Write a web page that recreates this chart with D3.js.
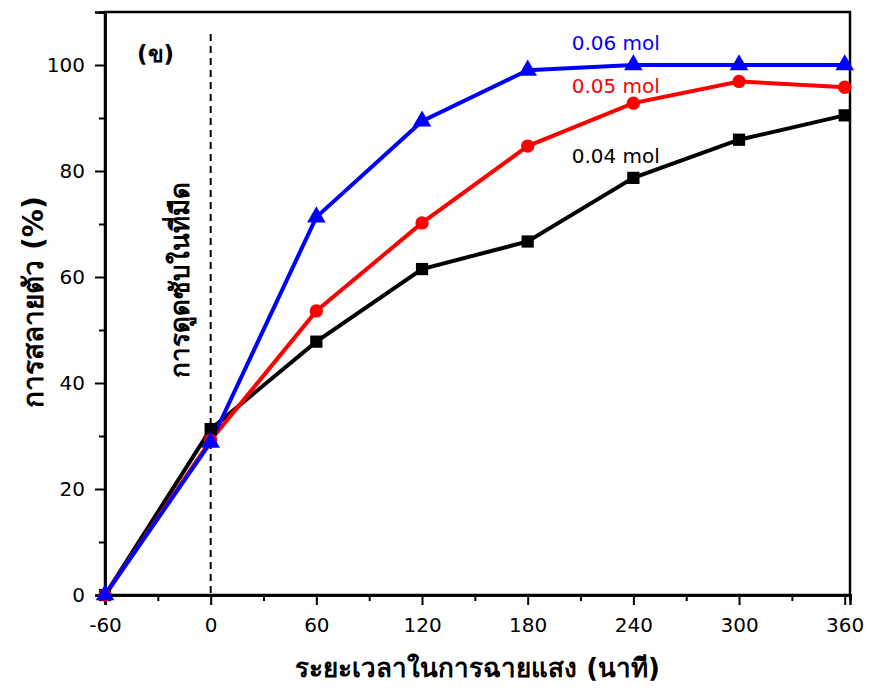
<!DOCTYPE html>
<html>
<head>
<meta charset="utf-8">
<script src="https://cdn.jsdelivr.net/npm/d3@7"></script>
<style>
  body { margin: 0; background: #fff; }
  text { font-family: "DejaVu Sans", "Noto Sans", sans-serif; }
</style>
</head>
<body>
<div id="chart"></div>
<script>
// Data
const times = [-60, 0, 60, 120, 180, 240, 300, 360];
const mol004 = [0, 31.3, 47.8, 61.5, 66.7, 78.7, 85.9, 90.5];
const mol005 = [0, 29.2, 53.6, 70.2, 84.7, 92.8, 96.9, 95.8];
const mol006 = [0, 28.8, 71.3, 89.4, 99.0, 100, 100, 100];
const xTicks = [-60, 0, 60, 120, 180, 240, 300, 360];
const yTicks = [0, 20, 40, 60, 80, 100];

const series = [
  {name: "0.04 mol", values: mol004, color: "#000000", marker: "square", lx: 205, ly: 82.6},
  {name: "0.05 mol", values: mol005, color: "#ff0000", marker: "circle", lx: 205, ly: 95.7},
  {name: "0.06 mol", values: mol006, color: "#0000ff", marker: "triangle", lx: 205, ly: 103.8}
];

const W = 869, H = 693;
const margin = {top: 12, right: 19, bottom: 98, left: 105},
      width = W - margin.left - margin.right,
      height = H - margin.top - margin.bottom;

const svg = d3.select("#chart")
  .append("svg")
    .attr("width", W)
    .attr("height", H)
  .append("g")
    .attr("transform", `translate(${margin.left},${margin.top})`);

const x = d3.scaleLinear().domain([-60, 363]).range([0, width]);
const y = d3.scaleLinear().domain([0, 110]).range([height, 0]);

// Frame
svg.append("rect")
  .attr("x", 0).attr("y", 0)
  .attr("width", width).attr("height", height)
  .attr("fill", "none")
  .attr("stroke", "#000")
  .attr("stroke-width", 2.5);

// Axes with minor ticks
const xMinor = d3.range(-30, 361, 60);
const yMinor = d3.range(10, 110, 20);

svg.append("g")
  .attr("transform", `translate(0, ${height})`)
  .call(d3.axisBottom(x).tickValues(xTicks).tickSize(10).tickPadding(13).tickFormat(d => String(d)));
svg.append("g")
  .attr("transform", `translate(0, ${height})`)
  .call(d3.axisBottom(x).tickValues(xMinor).tickSize(6).tickFormat(""));

svg.append("g")
  .call(d3.axisLeft(y).tickValues(yTicks).tickSize(10).tickPadding(10));
svg.append("g")
  .call(d3.axisLeft(y).tickValues(yMinor).tickSize(6).tickFormat(""));

svg.selectAll(".domain").attr("stroke-width", 2.5);
svg.selectAll(".tick line").attr("stroke-width", 2);
svg.selectAll(".tick text")
  .attr("font-size", 20)
  .attr("font-family", "DejaVu Sans")
  .attr("fill", "#000");

// Dark adsorption divider
svg.append("line")
  .attr("x1", x(0)).attr("x2", x(0))
  .attr("y1", 22).attr("y2", height)
  .attr("stroke", "#000")
  .attr("stroke-width", 2)
  .attr("stroke-dasharray", "7,5");

// Lines
const line = d3.line()
  .x((d, i) => x(times[i]))
  .y(d => y(d));

series.forEach(s => {
  svg.append("path")
    .datum(s.values)
    .attr("fill", "none")
    .attr("stroke", s.color)
    .attr("stroke-width", 4)
    .attr("d", line);
});

// Markers
series.forEach(s => {
  const symType = s.marker === "square" ? d3.symbolSquare
    : s.marker === "circle" ? d3.symbolCircle : d3.symbolTriangle;
  const size = s.marker === "square" ? 150 : s.marker === "circle" ? 140 : 150;
  svg.selectAll(null)
    .data(s.values)
    .enter().append("path")
      .attr("transform", (d, i) => `translate(${x(times[i])},${y(d)})`)
      .attr("d", d3.symbol().type(symType).size(size))
      .attr("fill", s.color);
});

// Series labels
svg.selectAll(".slabel")
  .data(series)
  .enter().append("text")
    .attr("class", "slabel")
    .attr("x", d => x(d.lx))
    .attr("y", d => y(d.ly))
    .attr("fill", d => d.color)
    .attr("font-size", 20)
    .attr("dominant-baseline", "middle")
    .text(d => d.name);

// Panel label
svg.append("text")
  .attr("x", 32).attr("y", 50)
  .attr("font-size", 23)
  .attr("font-weight", "bold")
  .text("(ข)");

// Vertical annotation
svg.append("text")
  .attr("transform", `translate(${x(0) - 22}, ${268}) rotate(-90)`)
  .attr("text-anchor", "middle")
  .attr("font-family", "Noto Sans, sans-serif")
  .attr("font-size", 26)
  .attr("font-weight", "bold")
  .text("การดูดซับในที่มืด");

// Axis titles
svg.append("text")
  .attr("text-anchor", "middle")
  .attr("x", width / 2)
  .attr("y", height + 82)
  .attr("font-family", "Noto Sans, sans-serif")
  .attr("font-size", 26)
  .attr("font-weight", "bold")
  .text("ระยะเวลาในการฉายแสง (นาที)");

svg.append("text")
  .attr("text-anchor", "middle")
  .attr("transform", "rotate(-90)")
  .attr("x", -290)
  .attr("y", -62)
  .attr("font-family", "Noto Sans, sans-serif")
  .attr("font-size", 28)
  .attr("font-weight", "bold")
  .text("การสลายตัว (%)");
</script>
</body>
</html>
